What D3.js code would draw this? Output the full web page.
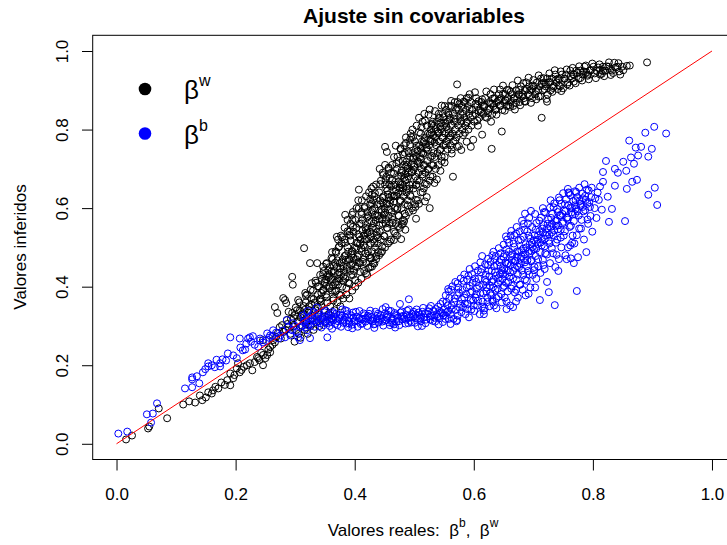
<!DOCTYPE html>
<html><head><meta charset="utf-8">
<script src="https://cdn.jsdelivr.net/npm/d3@7"></script>
<style>body{margin:0;background:#fff}svg{display:block}text{font-family:"Liberation Sans",Arial,Helvetica,sans-serif;fill:#000}</style>
</head><body>
<svg id="chart" width="727" height="545"></svg>
<script>
const title = "Ajuste sin covariables";
const xTicks = [0, 0.2, 0.4, 0.6, 0.8, 1.0];
const yTicks = [0, 0.2, 0.4, 0.6, 0.8, 1.0];

// beta^w (black) — real vs inferred
const betaW_low = [[0.016,0.011],[0.026,0.021],[0.053,0.039],[0.055,0.044],[0.071,0.090],[0.085,0.065],[0.112,0.100],[0.122,0.108],[0.132,0.105],[0.144,0.111],[0.140,0.123],[0.150,0.118],[0.154,0.131],[0.160,0.128],[0.162,0.136],[0.166,0.145],[0.171,0.141],[0.176,0.156],[0.182,0.150],[0.186,0.162],[0.191,0.179],[0.196,0.167],[0.191,0.149],[0.198,0.175],[0.202,0.192],[0.204,0.205],[0.207,0.182],[0.210,0.188],[0.214,0.196],[0.219,0.200],[0.224,0.205],[0.228,0.187],[0.232,0.208],[0.236,0.221],[0.238,0.218],[0.240,0.213],[0.243,0.232],[0.246,0.200],[0.246,0.226],[0.250,0.218],[0.253,0.226],[0.255,0.240],[0.258,0.233],[0.258,0.246],[0.246,0.264],[0.262,0.252],[0.263,0.264],[0.266,0.258],[0.268,0.272],[0.271,0.282],[0.276,0.268],[0.274,0.297],[0.278,0.302],[0.281,0.285],[0.284,0.290],[0.289,0.298],[0.292,0.280],[0.286,0.315],[0.266,0.348],[0.270,0.333],[0.280,0.371],[0.285,0.358],[0.283,0.366],[0.295,0.425],[0.296,0.405],[0.295,0.333],[0.303,0.340],[0.300,0.328],[0.305,0.366],[0.317,0.384],[0.328,0.409],[0.315,0.498],[0.325,0.460],[0.337,0.460],[0.347,0.451]];
const betaW_mid = [[0.299,0.26],[0.302,0.29],[0.298,0.32],[0.306,0.28],[0.304,0.31],[0.308,0.34],[0.309,0.27],[0.312,0.30],[0.311,0.33],[0.307,0.36],[0.316,0.29],[0.314,0.33],[0.318,0.36],[0.321,0.28],[0.319,0.31],[0.323,0.35],[0.320,0.38],[0.326,0.30],[0.324,0.34],[0.327,0.37],[0.331,0.29],[0.329,0.32],[0.333,0.36],[0.330,0.39],[0.336,0.31],[0.334,0.34],[0.338,0.38],[0.335,0.41],[0.341,0.30],[0.339,0.33],[0.343,0.37],[0.340,0.40],[0.342,0.43],[0.346,0.32],[0.344,0.35],[0.347,0.39],[0.345,0.42],[0.351,0.31],[0.349,0.34],[0.352,0.38],[0.350,0.41],[0.348,0.44],[0.356,0.33],[0.354,0.36],[0.357,0.40],[0.355,0.43],[0.353,0.46],[0.361,0.32],[0.359,0.35],[0.362,0.39],[0.360,0.42],[0.358,0.45],[0.366,0.34],[0.364,0.37],[0.367,0.41],[0.365,0.44],[0.363,0.47],[0.371,0.36],[0.369,0.39],[0.372,0.42],[0.370,0.45],[0.368,0.49],[0.376,0.35],[0.374,0.38],[0.377,0.43],[0.375,0.46],[0.373,0.50],[0.381,0.37],[0.379,0.40],[0.382,0.44],[0.380,0.47],[0.378,0.51],[0.386,0.38],[0.384,0.42],[0.387,0.45],[0.385,0.48],[0.383,0.52],[0.391,0.37],[0.389,0.41],[0.392,0.44],[0.390,0.47],[0.388,0.50],[0.391,0.54],[0.396,0.39],[0.394,0.43],[0.397,0.46],[0.395,0.49],[0.393,0.53],[0.401,0.40],[0.399,0.44],[0.402,0.47],[0.400,0.50],[0.398,0.54],[0.401,0.57],[0.406,0.41],[0.404,0.45],[0.407,0.48],[0.405,0.51],[0.403,0.55],[0.411,0.42],[0.409,0.46],[0.412,0.49],[0.410,0.52],[0.408,0.56],[0.411,0.59],[0.416,0.44],[0.414,0.47],[0.417,0.50],[0.415,0.53],[0.413,0.57],[0.421,0.43],[0.419,0.46],[0.422,0.49],[0.420,0.52],[0.418,0.55],[0.421,0.59],[0.426,0.45],[0.424,0.48],[0.427,0.51],[0.425,0.54],[0.423,0.58],[0.426,0.61],[0.431,0.46],[0.429,0.49],[0.432,0.52],[0.430,0.55],[0.428,0.59],[0.431,0.62],[0.436,0.47],[0.434,0.50],[0.437,0.53],[0.435,0.57],[0.433,0.60],[0.441,0.48],[0.439,0.51],[0.442,0.54],[0.440,0.58],[0.438,0.61],[0.441,0.64],[0.446,0.49],[0.444,0.52],[0.447,0.56],[0.445,0.59],[0.443,0.62],[0.451,0.50],[0.449,0.53],[0.452,0.57],[0.450,0.60],[0.448,0.63],[0.451,0.66],[0.456,0.51],[0.454,0.55],[0.457,0.58],[0.455,0.61],[0.453,0.65],[0.461,0.52],[0.459,0.56],[0.462,0.59],[0.460,0.62],[0.458,0.66],[0.461,0.69],[0.466,0.54],[0.464,0.57],[0.467,0.60],[0.465,0.63],[0.463,0.67],[0.471,0.53],[0.469,0.56],[0.472,0.60],[0.470,0.63],[0.468,0.66],[0.471,0.70],[0.476,0.55],[0.474,0.58],[0.477,0.62],[0.475,0.65],[0.473,0.68],[0.481,0.56],[0.479,0.60],[0.482,0.63],[0.480,0.66],[0.478,0.69],[0.481,0.72],[0.486,0.58],[0.484,0.61],[0.487,0.64],[0.485,0.67],[0.483,0.71],[0.491,0.59],[0.489,0.62],[0.492,0.65],[0.490,0.68],[0.488,0.71],[0.491,0.74],[0.496,0.60],[0.494,0.63],[0.497,0.66],[0.495,0.69],[0.493,0.73],[0.501,0.61],[0.499,0.65],[0.502,0.68],[0.500,0.71],[0.498,0.74],[0.501,0.77],[0.506,0.62],[0.504,0.66],[0.507,0.69],[0.505,0.72],[0.503,0.75],[0.511,0.64],[0.509,0.67],[0.512,0.70],[0.510,0.73],[0.508,0.76],[0.511,0.79],[0.516,0.65],[0.514,0.68],[0.517,0.71],[0.515,0.74],[0.513,0.77],[0.521,0.66],[0.519,0.69],[0.522,0.72],[0.520,0.75],[0.518,0.78],[0.521,0.81],[0.526,0.67],[0.524,0.70],[0.527,0.73],[0.525,0.76],[0.523,0.79],[0.531,0.68],[0.529,0.71],[0.532,0.74],[0.530,0.77],[0.528,0.80],[0.531,0.82],[0.536,0.70],[0.534,0.73],[0.537,0.76],[0.535,0.78],[0.533,0.81],[0.541,0.71],[0.539,0.74],[0.542,0.77],[0.540,0.79],[0.538,0.82],[0.541,0.84],[0.546,0.72],[0.544,0.75],[0.547,0.78],[0.545,0.80],[0.543,0.83],[0.551,0.73],[0.549,0.76],[0.552,0.79],[0.550,0.81],[0.548,0.84],[0.551,0.86],[0.556,0.75],[0.554,0.77],[0.557,0.80],[0.555,0.82],[0.553,0.85],[0.561,0.76],[0.559,0.78],[0.562,0.81],[0.560,0.83],[0.558,0.86],[0.566,0.77],[0.564,0.79],[0.567,0.82],[0.565,0.84],[0.563,0.86],[0.571,0.78],[0.569,0.80],[0.572,0.82],[0.570,0.85],[0.568,0.87],[0.576,0.79],[0.574,0.81],[0.577,0.83],[0.575,0.85],[0.573,0.87],[0.581,0.80],[0.579,0.82],[0.582,0.84],[0.580,0.86],[0.578,0.88],[0.586,0.81],[0.584,0.83],[0.587,0.85],[0.585,0.87],[0.591,0.80],[0.589,0.82],[0.592,0.84],[0.590,0.86],[0.588,0.88],[0.596,0.81],[0.594,0.83],[0.597,0.85],[0.595,0.87],[0.593,0.89]];
const betaW_fill = [[0.287,0.305],[0.293,0.318],[0.301,0.347],[0.297,0.299],[0.309,0.322],[0.314,0.351],[0.322,0.334],[0.318,0.305],[0.327,0.356],[0.333,0.327],[0.289,0.336],[0.305,0.312],[0.338,0.349],[0.343,0.362],[0.316,0.341],[0.318,0.377],[0.326,0.392],[0.331,0.368],[0.338,0.401],[0.344,0.384],[0.349,0.412],[0.353,0.373],[0.358,0.396],[0.362,0.419],[0.367,0.388],[0.372,0.405],[0.377,0.378],[0.381,0.414],[0.386,0.396],[0.391,0.408],[0.334,0.415],[0.341,0.367],[0.356,0.424],[0.364,0.365],[0.375,0.421],[0.347,0.392],[0.352,0.402],[0.369,0.413],[0.347,0.432],[0.352,0.458],[0.356,0.441],[0.361,0.473],[0.365,0.452],[0.369,0.487],[0.374,0.436],[0.378,0.462],[0.383,0.478],[0.387,0.445],[0.392,0.469],[0.396,0.491],[0.401,0.452],[0.405,0.476],[0.409,0.438],[0.414,0.463],[0.418,0.485],[0.423,0.447],[0.428,0.472],[0.433,0.459],[0.439,0.488],[0.358,0.428],[0.371,0.467],[0.381,0.426],[0.394,0.455],[0.407,0.461],[0.419,0.434],[0.436,0.478],[0.444,0.486],[0.374,0.503],[0.379,0.526],[0.384,0.512],[0.388,0.541],[0.393,0.518],[0.397,0.552],[0.402,0.497],[0.406,0.533],[0.411,0.561],[0.415,0.506],[0.419,0.544],[0.424,0.522],[0.428,0.566],[0.433,0.511],[0.437,0.539],[0.441,0.557],[0.446,0.502],[0.450,0.528],[0.455,0.549],[0.459,0.515],[0.464,0.563],[0.468,0.536],[0.473,0.554],[0.478,0.521],[0.483,0.567],[0.391,0.532],[0.409,0.509],[0.422,0.548],[0.439,0.526],[0.452,0.561],[0.466,0.519],[0.485,0.545],[0.412,0.584],[0.417,0.603],[0.421,0.576],[0.426,0.622],[0.430,0.594],[0.434,0.638],[0.438,0.581],[0.443,0.609],[0.447,0.627],[0.451,0.589],[0.455,0.645],[0.459,0.612],[0.463,0.578],[0.467,0.631],[0.471,0.597],[0.476,0.618],[0.480,0.642],[0.484,0.586],[0.489,0.607],[0.493,0.633],[0.498,0.594],[0.503,0.621],[0.508,0.611],[0.514,0.641],[0.521,0.628],[0.429,0.612],[0.446,0.571],[0.457,0.626],[0.474,0.581],[0.487,0.649],[0.502,0.603],[0.518,0.617],[0.443,0.661],[0.448,0.684],[0.452,0.672],[0.457,0.703],[0.461,0.655],[0.466,0.688],[0.470,0.713],[0.474,0.668],[0.479,0.696],[0.483,0.677],[0.487,0.718],[0.492,0.659],[0.496,0.692],[0.500,0.705],[0.505,0.671],[0.509,0.714],[0.514,0.686],[0.518,0.662],[0.523,0.699],[0.527,0.681],[0.532,0.709],[0.538,0.673],[0.544,0.695],[0.551,0.716],[0.459,0.676],[0.476,0.652],[0.489,0.701],[0.503,0.658],[0.516,0.708],[0.534,0.664],[0.472,0.731],[0.477,0.752],[0.481,0.737],[0.486,0.766],[0.490,0.744],[0.495,0.781],[0.499,0.728],[0.504,0.759],[0.508,0.793],[0.512,0.741],[0.517,0.772],[0.521,0.754],[0.526,0.788],[0.530,0.733],[0.534,0.767],[0.539,0.796],[0.543,0.748],[0.548,0.779],[0.553,0.761],[0.558,0.791],[0.563,0.739],[0.569,0.772],[0.575,0.758],[0.582,0.786],[0.588,0.769],[0.493,0.762],[0.511,0.725],[0.528,0.776],[0.546,0.731],[0.561,0.784],[0.579,0.748],[0.512,0.806],[0.518,0.823],[0.524,0.838],[0.529,0.812],[0.535,0.847],[0.541,0.829],[0.546,0.861],[0.552,0.817],[0.557,0.842],[0.562,0.873],[0.567,0.828],[0.572,0.856],[0.578,0.839],[0.583,0.871],[0.588,0.818],[0.593,0.852],[0.598,0.836],[0.603,0.866],[0.608,0.848],[0.614,0.877],[0.619,0.832],[0.526,0.851],[0.544,0.808],[0.559,0.826],[0.576,0.866],[0.591,0.881],[0.606,0.823],[0.617,0.858],[0.624,0.842],[0.628,0.866],[0.632,0.879],[0.636,0.851],[0.641,0.874],[0.645,0.862],[0.649,0.891],[0.654,0.874],[0.658,0.862],[0.662,0.896],[0.667,0.879],[0.671,0.868],[0.676,0.901],[0.681,0.884],[0.685,0.872],[0.689,0.903],[0.694,0.887],[0.699,0.912],[0.704,0.898],[0.709,0.884],[0.714,0.917],[0.719,0.903],[0.724,0.889],[0.728,0.921],[0.733,0.906],[0.738,0.927],[0.743,0.912],[0.747,0.898],[0.752,0.929],[0.757,0.915],[0.763,0.936],[0.768,0.922],[0.774,0.944],[0.779,0.931],[0.785,0.948],[0.791,0.937],[0.797,0.951],[0.803,0.943],[0.809,0.958],[0.817,0.949],[0.823,0.961],[0.829,0.952],[0.838,0.958],[0.844,0.948]];
const betaW_core = [[0.352,0.418],[0.361,0.439],[0.367,0.461],[0.376,0.447],[0.385,0.468],[0.389,0.489],[0.398,0.473],[0.403,0.512],[0.411,0.498],[0.417,0.521],[0.421,0.537],[0.427,0.528],[0.432,0.561],[0.436,0.548],[0.442,0.572],[0.445,0.596],[0.449,0.583],[0.453,0.612],[0.458,0.597],[0.462,0.631],[0.466,0.617],[0.469,0.648],[0.473,0.639],[0.477,0.661],[0.481,0.651],[0.485,0.687],[0.488,0.673],[0.491,0.692],[0.495,0.711],[0.499,0.698],[0.503,0.732],[0.507,0.718],[0.511,0.751],[0.515,0.738],[0.519,0.762],[0.523,0.748],[0.527,0.771],[0.532,0.786],[0.536,0.801],[0.541,0.792],[0.545,0.818],[0.549,0.831],[0.554,0.807],[0.558,0.838],[0.364,0.402],[0.372,0.431],[0.381,0.452],[0.394,0.481],[0.408,0.527],[0.413,0.543],[0.425,0.569],[0.434,0.583],[0.447,0.615],[0.456,0.635],[0.465,0.658],[0.478,0.682],[0.486,0.706],[0.498,0.727],[0.506,0.746],[0.516,0.768],[0.529,0.792]];
const betaW_fringe = [[0.372,0.52],[0.377,0.53],[0.383,0.55],[0.388,0.57],[0.393,0.56],[0.397,0.59],[0.403,0.60],[0.406,0.62],[0.412,0.62],[0.416,0.60],[0.419,0.63],[0.424,0.64],[0.428,0.65],[0.433,0.63],[0.436,0.66],[0.444,0.67],[0.447,0.69],[0.453,0.68],[0.457,0.70],[0.463,0.71],[0.466,0.73],[0.474,0.72],[0.477,0.75],[0.483,0.76],[0.486,0.78],[0.494,0.79],[0.497,0.80],[0.504,0.81],[0.508,0.83],[0.514,0.82],[0.517,0.84],[0.370,0.527],[0.362,0.488],[0.384,0.583],[0.396,0.583],[0.396,0.570],[0.407,0.647],[0.407,0.600],[0.431,0.655],[0.429,0.634],[0.442,0.700],[0.451,0.710],[0.451,0.756],[0.454,0.743],[0.469,0.759],[0.484,0.741],[0.493,0.774],[0.498,0.781],[0.503,0.573],[0.481,0.570],[0.479,0.558],[0.526,0.600],[0.426,0.473],[0.429,0.451],[0.401,0.417],[0.397,0.430],[0.565,0.680],[0.585,0.792],[0.530,0.815]];
const betaW_high = [[0.601,0.82],[0.603,0.84],[0.606,0.86],[0.604,0.88],[0.609,0.83],[0.611,0.85],[0.613,0.87],[0.616,0.84],[0.618,0.86],[0.619,0.88],[0.607,0.81],[0.622,0.83],[0.624,0.85],[0.626,0.87],[0.628,0.89],[0.631,0.84],[0.633,0.86],[0.635,0.88],[0.637,0.85],[0.639,0.87],[0.642,0.89],[0.644,0.86],[0.646,0.88],[0.648,0.85],[0.629,0.82],[0.651,0.87],[0.653,0.89],[0.655,0.86],[0.657,0.88],[0.659,0.90],[0.662,0.87],[0.664,0.89],[0.666,0.86],[0.668,0.88],[0.671,0.90],[0.673,0.88],[0.675,0.89],[0.677,0.87],[0.679,0.91],[0.682,0.89],[0.684,0.88],[0.686,0.90],[0.688,0.92],[0.691,0.89],[0.693,0.91],[0.695,0.90],[0.698,0.88],[0.701,0.91],[0.703,0.89],[0.706,0.92],[0.708,0.90],[0.711,0.91],[0.713,0.93],[0.716,0.90],[0.718,0.92],[0.721,0.91],[0.723,0.93],[0.726,0.92],[0.729,0.90],[0.731,0.93],[0.734,0.91],[0.737,0.94],[0.739,0.92],[0.742,0.93],[0.745,0.91],[0.748,0.94],[0.752,0.93],[0.755,0.94],[0.758,0.92],[0.762,0.95],[0.765,0.93],[0.768,0.94],[0.772,0.95],[0.776,0.93],[0.779,0.95],[0.783,0.94],[0.786,0.96],[0.791,0.94],[0.795,0.95],[0.801,0.96],[0.806,0.95],[0.812,0.94],[0.817,0.96],[0.821,0.95],[0.826,0.96],[0.832,0.95],[0.836,0.97],[0.841,0.96],[0.846,0.94],[0.849,0.96],[0.815,0.942],[0.830,0.939],[0.572,0.915],[0.644,0.902],[0.714,0.830],[0.723,0.871],[0.647,0.795],[0.630,0.751],[0.614,0.787],[0.595,0.756],[0.599,0.774],[0.572,0.756],[0.563,0.749],[0.862,0.963],[0.891,0.971]];
const betaW_upper = [[0.602,0.895],[0.608,0.872],[0.612,0.843],[0.621,0.897],[0.627,0.853],[0.634,0.902],[0.638,0.838],[0.643,0.877],[0.649,0.912],[0.652,0.848],[0.656,0.901],[0.661,0.858],[0.665,0.913],[0.669,0.851],[0.674,0.925],[0.678,0.862],[0.683,0.918],[0.687,0.871],[0.692,0.932],[0.696,0.868],[0.700,0.926],[0.705,0.877],[0.709,0.938],[0.712,0.885],[0.717,0.931],[0.722,0.878],[0.727,0.943],[0.732,0.896],[0.736,0.951],[0.741,0.903],[0.746,0.948],[0.750,0.905],[0.756,0.953],[0.761,0.912],[0.766,0.957],[0.771,0.918],[0.777,0.961],[0.782,0.925],[0.788,0.963],[0.793,0.928],[0.799,0.968],[0.805,0.931],[0.811,0.966],[0.819,0.936],[0.827,0.971],[0.834,0.944],[0.843,0.969],[0.851,0.951],[0.857,0.962],[0.812,0.952],[0.789,0.946],[0.767,0.941],[0.744,0.928],[0.721,0.916],[0.698,0.903],[0.676,0.889],[0.653,0.875],[0.631,0.866],[0.615,0.862]];

// beta^b (blue) — real vs inferred
const betaB_low = [[0.003,0.026],[0.018,0.031],[0.051,0.075],[0.061,0.077],[0.068,0.103],[0.058,0.054],[0.115,0.141],[0.127,0.144],[0.127,0.164],[0.139,0.154],[0.127,0.169],[0.135,0.172],[0.145,0.182],[0.149,0.190],[0.154,0.197],[0.154,0.205],[0.160,0.200],[0.165,0.195],[0.168,0.214],[0.174,0.197],[0.174,0.205],[0.178,0.215],[0.184,0.212],[0.187,0.230],[0.196,0.225],[0.191,0.271],[0.202,0.218],[0.207,0.268],[0.208,0.245],[0.212,0.238],[0.216,0.240],[0.218,0.255],[0.221,0.268],[0.224,0.271],[0.226,0.260],[0.229,0.274],[0.232,0.252],[0.238,0.247],[0.241,0.263],[0.241,0.268],[0.246,0.258],[0.251,0.262],[0.253,0.281],[0.256,0.270],[0.258,0.276],[0.262,0.275],[0.263,0.289],[0.268,0.283],[0.272,0.268],[0.275,0.276],[0.279,0.288],[0.283,0.271],[0.286,0.315],[0.288,0.296],[0.292,0.276],[0.295,0.289],[0.296,0.307],[0.300,0.300],[0.303,0.284]];
const betaB_flat = [[0.305,0.271],[0.308,0.264],[0.320,0.289],[0.325,0.269],[0.330,0.315],[0.342,0.307],[0.347,0.315],[0.353,0.307],[0.354,0.271],[0.364,0.315],[0.364,0.332],[0.375,0.322],[0.384,0.340],[0.389,0.297],[0.459,0.302],[0.490,0.307],[0.491,0.368],[0.476,0.356],[0.572,0.315],[0.557,0.394],[0.573,0.409],[0.312,0.301],[0.316,0.322],[0.318,0.296],[0.323,0.312],[0.327,0.327],[0.333,0.298],[0.336,0.318],[0.338,0.331],[0.344,0.296],[0.346,0.323],[0.349,0.335],[0.352,0.312],[0.358,0.300],[0.360,0.327],[0.362,0.318],[0.367,0.305],[0.369,0.331],[0.372,0.312],[0.377,0.298],[0.379,0.326],[0.382,0.316],[0.386,0.306],[0.388,0.330],[0.392,0.320],[0.395,0.303],[0.397,0.334],[0.400,0.314],[0.403,0.324],[0.405,0.298],[0.408,0.338],[0.411,0.317],[0.413,0.306],[0.416,0.327],[0.419,0.320],[0.421,0.300],[0.424,0.331],[0.427,0.314],[0.429,0.323],[0.432,0.304],[0.435,0.336],[0.437,0.318],[0.440,0.309],[0.443,0.328],[0.445,0.320],[0.448,0.301],[0.451,0.332],[0.453,0.315],[0.456,0.325],[0.458,0.309],[0.461,0.338],[0.464,0.319],[0.466,0.304],[0.469,0.329],[0.472,0.321],[0.474,0.312],[0.477,0.334],[0.480,0.317],[0.482,0.326],[0.485,0.306],[0.488,0.339],[0.490,0.320],[0.493,0.313],[0.496,0.331],[0.498,0.324],[0.501,0.308],[0.504,0.342],[0.506,0.318],[0.509,0.328],[0.511,0.312],[0.514,0.336],[0.517,0.322],[0.519,0.307],[0.522,0.331],[0.525,0.345],[0.527,0.316],[0.530,0.326],[0.532,0.338],[0.535,0.311],[0.538,0.330],[0.540,0.349],[0.543,0.320],[0.545,0.335],[0.548,0.310],[0.550,0.342],[0.553,0.326],[0.556,0.352],[0.558,0.318],[0.314,0.310],[0.321,0.302],[0.329,0.318],[0.340,0.312],[0.350,0.325],[0.357,0.317],[0.365,0.324],[0.374,0.318],[0.381,0.308],[0.390,0.313],[0.398,0.321],[0.406,0.311],[0.414,0.318],[0.422,0.326],[0.430,0.312],[0.438,0.326],[0.446,0.311],[0.454,0.321],[0.462,0.314],[0.470,0.311],[0.478,0.324],[0.486,0.316],[0.494,0.322],[0.502,0.329],[0.510,0.319],[0.518,0.332],[0.526,0.324],[0.534,0.321],[0.542,0.338],[0.549,0.327],[0.555,0.335]];
const betaB_flatFill = [[0.309,0.297],[0.313,0.327],[0.317,0.313],[0.322,0.321],[0.326,0.304],[0.331,0.336],[0.335,0.309],[0.339,0.324],[0.343,0.317],[0.348,0.302],[0.351,0.339],[0.355,0.321],[0.359,0.311],[0.363,0.336],[0.368,0.319],[0.371,0.302],[0.376,0.328],[0.380,0.313],[0.384,0.322],[0.387,0.338],[0.391,0.306],[0.394,0.327],[0.399,0.311],[0.402,0.336],[0.407,0.319],[0.410,0.305],[0.415,0.332],[0.418,0.311],[0.423,0.321],[0.426,0.339],[0.431,0.317],[0.434,0.305],[0.439,0.331],[0.442,0.318],[0.447,0.343],[0.450,0.313],[0.455,0.329],[0.457,0.339],[0.463,0.307],[0.467,0.333],[0.471,0.326],[0.475,0.302],[0.479,0.337],[0.483,0.319],[0.487,0.328],[0.491,0.342],[0.495,0.309],[0.499,0.336],[0.503,0.321],[0.507,0.334],[0.512,0.323],[0.515,0.346],[0.520,0.316],[0.524,0.337],[0.528,0.351],[0.531,0.313],[0.536,0.343],[0.539,0.324],[0.544,0.356],[0.547,0.332],[0.552,0.318],[0.554,0.361],[0.557,0.338],[0.559,0.371],[0.336,0.347],[0.362,0.293],[0.396,0.294],[0.433,0.295],[0.468,0.296],[0.506,0.299],[0.541,0.304],[0.321,0.338],[0.379,0.342],[0.452,0.348],[0.513,0.300],[0.561,0.305]];
const betaB_rise = [[0.561,0.330],[0.563,0.352],[0.566,0.318],[0.568,0.370],[0.570,0.341],[0.573,0.326],[0.575,0.385],[0.577,0.356],[0.579,0.335],[0.562,0.392],[0.571,0.312],[0.582,0.348],[0.584,0.372],[0.586,0.330],[0.588,0.398],[0.590,0.356],[0.592,0.322],[0.594,0.385],[0.596,0.342],[0.598,0.410],[0.599,0.365],[0.583,0.415],[0.591,0.428],[0.601,0.338],[0.603,0.372],[0.605,0.395],[0.606,0.352],[0.608,0.420],[0.610,0.330],[0.611,0.384],[0.613,0.445],[0.615,0.362],[0.616,0.405],[0.618,0.345],[0.620,0.430],[0.621,0.388],[0.623,0.372],[0.624,0.455],[0.604,0.412],[0.617,0.330],[0.626,0.350],[0.627,0.402],[0.629,0.378],[0.630,0.440],[0.632,0.362],[0.633,0.418],[0.635,0.470],[0.636,0.392],[0.638,0.345],[0.639,0.455],[0.641,0.408],[0.642,0.375],[0.644,0.432],[0.645,0.485],[0.647,0.360],[0.648,0.420],[0.649,0.398],[0.631,0.480],[0.651,0.445],[0.652,0.372],[0.654,0.410],[0.655,0.495],[0.657,0.388],[0.658,0.460],[0.660,0.425],[0.661,0.352],[0.663,0.478],[0.664,0.402],[0.666,0.440],[0.667,0.510],[0.669,0.385],[0.670,0.465],[0.672,0.418],[0.673,0.490],[0.674,0.372],[0.656,0.520],[0.662,0.530],[0.671,0.535],[0.676,0.450],[0.677,0.405],[0.679,0.520],[0.680,0.478],[0.682,0.392],[0.683,0.430],[0.685,0.545],[0.686,0.462],[0.688,0.500],[0.689,0.415],[0.691,0.440],[0.692,0.530],[0.694,0.485],[0.695,0.398],[0.697,0.468],[0.698,0.512],[0.699,0.430],[0.684,0.560],[0.693,0.575],[0.687,0.378],[0.701,0.495],[0.702,0.450],[0.704,0.545],[0.705,0.420],[0.707,0.520],[0.708,0.470],[0.710,0.568],[0.711,0.366],[0.712,0.435],[0.714,0.505],[0.715,0.548],[0.717,0.455],[0.718,0.590],[0.720,0.485],[0.721,0.530],[0.723,0.412],[0.724,0.560],[0.703,0.585],[0.716,0.600],[0.719,0.445],[0.726,0.386],[0.727,0.510],[0.728,0.460],[0.730,0.575],[0.731,0.538],[0.733,0.485],[0.734,0.602],[0.736,0.353],[0.737,0.450],[0.738,0.555],[0.740,0.520],[0.741,0.590],[0.743,0.470],[0.744,0.620],[0.746,0.545],[0.747,0.500],[0.749,0.585],[0.729,0.620],[0.742,0.440],[0.751,0.530],[0.753,0.610],[0.754,0.480],[0.756,0.470],[0.757,0.575],[0.759,0.640],[0.762,0.505],[0.763,0.555],[0.765,0.600],[0.766,0.530],[0.768,0.460],[0.770,0.585],[0.771,0.620],[0.772,0.641],[0.773,0.389],[0.775,0.475],[0.777,0.548],[0.779,0.605],[0.781,0.570],[0.783,0.625],[0.785,0.520],[0.787,0.595],[0.789,0.488],[0.790,0.647],[0.792,0.560],[0.794,0.615],[0.796,0.580],[0.798,0.652],[0.799,0.540],[0.758,0.500],[0.769,0.510],[0.614,0.478],[0.652,0.483],[0.666,0.348],[0.760,0.638]];
const betaB_riseFill = [[0.563,0.342],[0.567,0.361],[0.572,0.378],[0.576,0.347],[0.580,0.368],[0.581,0.392],[0.585,0.357],[0.587,0.381],[0.589,0.343],[0.593,0.402],[0.595,0.366],[0.597,0.388],[0.600,0.352],[0.602,0.421],[0.604,0.381],[0.607,0.364],[0.609,0.402],[0.612,0.437],[0.614,0.349],[0.616,0.383],[0.619,0.418],[0.622,0.398],[0.623,0.361],[0.625,0.441],[0.628,0.384],[0.630,0.412],[0.631,0.365],[0.634,0.452],[0.637,0.428],[0.638,0.371],[0.640,0.395],[0.643,0.462],[0.644,0.415],[0.646,0.381],[0.648,0.441],[0.650,0.476],[0.651,0.402],[0.653,0.431],[0.655,0.362],[0.656,0.458],[0.658,0.412],[0.659,0.489],[0.661,0.437],[0.663,0.395],[0.664,0.468],[0.666,0.421],[0.668,0.501],[0.669,0.448],[0.671,0.392],[0.672,0.476],[0.674,0.431],[0.675,0.518],[0.677,0.459],[0.678,0.405],[0.680,0.492],[0.681,0.441],[0.683,0.527],[0.684,0.471],[0.686,0.418],[0.687,0.508],[0.689,0.452],[0.690,0.541],[0.692,0.489],[0.693,0.431],[0.695,0.522],[0.696,0.465],[0.698,0.552],[0.699,0.501],[0.701,0.442],[0.702,0.531],[0.704,0.478],[0.705,0.562],[0.707,0.509],[0.708,0.452],[0.710,0.541],[0.711,0.488],[0.713,0.576],[0.714,0.522],[0.716,0.468],[0.717,0.557],[0.719,0.503],[0.720,0.589],[0.722,0.538],[0.723,0.482],[0.725,0.571],[0.726,0.517],[0.728,0.601],[0.729,0.552],[0.731,0.498],[0.732,0.586],[0.734,0.531],[0.735,0.612],[0.737,0.567],[0.738,0.512],[0.740,0.598],[0.741,0.546],[0.743,0.627],[0.744,0.581],[0.746,0.525],[0.747,0.611],[0.749,0.561],[0.750,0.638],[0.752,0.594],[0.753,0.541],[0.755,0.622],[0.756,0.576],[0.758,0.649],[0.759,0.607],[0.761,0.552],[0.762,0.633],[0.764,0.589],[0.765,0.512],[0.767,0.618],[0.768,0.567],[0.770,0.643],[0.771,0.598],[0.773,0.531],[0.774,0.628],[0.776,0.581],[0.777,0.652],[0.779,0.611],[0.780,0.548],[0.782,0.637],[0.784,0.592],[0.786,0.661],[0.788,0.621],[0.791,0.571],[0.793,0.645],[0.795,0.603],[0.797,0.628],[0.634,0.352],[0.671,0.362],[0.703,0.398],[0.739,0.481],[0.763,0.472],[0.692,0.382],[0.655,0.343],[0.617,0.339]];
const betaB_edge = [[0.548,0.362],[0.553,0.378],[0.558,0.388],[0.564,0.401],[0.569,0.412],[0.574,0.398],[0.578,0.421],[0.584,0.431],[0.589,0.418],[0.593,0.445],[0.597,0.432],[0.602,0.452],[0.607,0.441],[0.611,0.462],[0.619,0.457],[0.624,0.471],[0.628,0.463],[0.633,0.489],[0.637,0.478],[0.642,0.498],[0.646,0.469],[0.650,0.507],[0.654,0.528],[0.659,0.512],[0.663,0.542],[0.668,0.531],[0.672,0.552],[0.677,0.541],[0.681,0.568],[0.686,0.586],[0.691,0.561],[0.696,0.593],[0.621,0.412],[0.626,0.426],[0.632,0.398],[0.636,0.437],[0.641,0.421],[0.645,0.452],[0.649,0.433],[0.653,0.462],[0.657,0.441],[0.662,0.455],[0.665,0.482],[0.669,0.466],[0.673,0.452],[0.676,0.489],[0.679,0.471],[0.683,0.497],[0.686,0.482],[0.690,0.467],[0.694,0.508],[0.697,0.491],[0.701,0.518],[0.705,0.497],[0.708,0.531],[0.712,0.512],[0.716,0.538],[0.719,0.521],[0.723,0.549],[0.727,0.532],[0.731,0.561],[0.735,0.543],[0.739,0.569],[0.742,0.556],[0.746,0.581],[0.750,0.565],[0.754,0.592],[0.758,0.571],[0.762,0.601],[0.766,0.584],[0.770,0.607],[0.774,0.592],[0.778,0.618],[0.783,0.603],[0.787,0.631],[0.791,0.611]];
const betaB_top = [[0.903,0.807],[0.923,0.790],[0.888,0.792],[0.861,0.772],[0.881,0.756],[0.872,0.754],[0.899,0.751],[0.876,0.734],[0.893,0.731],[0.864,0.729],[0.869,0.713],[0.851,0.718],[0.856,0.695],[0.837,0.700],[0.842,0.690],[0.822,0.720],[0.817,0.692],[0.817,0.667],[0.866,0.667],[0.874,0.672],[0.857,0.649],[0.837,0.657],[0.904,0.652],[0.893,0.634],[0.908,0.608],[0.854,0.567],[0.827,0.565],[0.832,0.598],[0.825,0.629],[0.812,0.655],[0.810,0.621],[0.815,0.596],[0.803,0.600],[0.806,0.575],[0.808,0.640],[0.804,0.625]];

const refLine = [[0,0],[1,1]];
const legendItems = [{sym:"β", sup:"w", color:"#000000"},{sym:"β", sup:"b", color:"#0000ff"}];

const svg = d3.select("#chart");
const x = d3.scaleLinear().domain([-0.04, 1.04]).range([92.7, 735.8]);
const y = d3.scaleLinear().domain([-0.04, 1.04]).range([459.5, 35.3]);
const fmt = d3.format(".1f");

// axes
const gx = svg.append("g").attr("transform", "translate(0,459.5)")
  .call(d3.axisBottom(x).tickValues(xTicks).tickFormat(fmt).tickSize(11).tickSizeOuter(0));
gx.select(".domain").remove();
gx.selectAll(".tick line").attr("stroke", "#000");
gx.selectAll(".tick text").attr("y", 40.5).attr("dy", 0).attr("font-size", 17).attr("fill", "#000")
  .style("font-family", '"Liberation Sans",Arial,sans-serif');

const gy = svg.append("g").attr("transform", "translate(92.7,0)")
  .call(d3.axisLeft(y).tickValues(yTicks).tickFormat(fmt).tickSize(10.7).tickSizeOuter(0));
gy.select(".domain").remove();
gy.selectAll(".tick line").attr("stroke", "#000");
gy.selectAll(".tick text").attr("x", 0).attr("y", 0).attr("dy", 0)
  .attr("text-anchor", "middle").attr("transform", "translate(-24.5,0) rotate(-90)")
  .attr("font-size", 17).attr("fill", "#000")
  .style("font-family", '"Liberation Sans",Arial,sans-serif');

// points
const black = betaW_low.concat(betaW_mid, betaW_fill, betaW_core, betaW_fringe, betaW_high, betaW_upper);
const blue = betaB_low.concat(betaB_flat, betaB_flatFill, betaB_rise, betaB_riseFill, betaB_edge, betaB_top);
const pts = svg.append("g");
pts.selectAll("circle.w").data(black).join("circle").attr("class", "w")
  .attr("cx", d => x(d[0])).attr("cy", d => y(d[1])).attr("r", 3.5)
  .attr("fill", "none").attr("stroke", "#000").attr("stroke-width", 1);
pts.selectAll("circle.b").data(blue).join("circle").attr("class", "b")
  .attr("cx", d => x(d[0])).attr("cy", d => y(d[1])).attr("r", 3.5)
  .attr("fill", "none").attr("stroke", "#0000ff").attr("stroke-width", 1);

// reference line
svg.append("path").datum(refLine)
  .attr("d", d3.line().x(d => x(d[0])).y(d => y(d[1])))
  .attr("stroke", "#ff0000").attr("stroke-width", 1).attr("fill", "none");

// frame
svg.append("rect").attr("x", x(-0.04)).attr("y", y(1.04))
  .attr("width", x(1.04) - x(-0.04)).attr("height", y(-0.04) - y(1.04))
  .attr("fill", "none").attr("stroke", "#000").attr("stroke-width", 1);

// title
svg.append("text").attr("x", 414).attr("y", 23).attr("text-anchor", "middle")
  .attr("font-size", 21).attr("font-weight", "bold").text(title);

// x axis title
const xt = svg.append("text").attr("x", 413).attr("y", 536).attr("text-anchor", "middle")
  .attr("font-size", 17).attr("xml:space", "preserve").style("white-space", "pre");
xt.append("tspan").text("Valores reales:  β");
xt.append("tspan").attr("font-size", 12).attr("dy", -9).text("b");
xt.append("tspan").attr("dy", 9).text(",  β");
xt.append("tspan").attr("font-size", 12).attr("dy", -9).text("w");

// y axis title
svg.append("text").attr("transform", "translate(26,247) rotate(-90)").attr("text-anchor", "middle")
  .attr("font-size", 17).text("Valores inferidos");

// legend
const lg = svg.append("g");
legendItems.forEach((it, i) => {
  const cy = 89 + i * 44.5;
  lg.append("circle").attr("cx", 145).attr("cy", cy).attr("r", 6.3).attr("fill", it.color);
  const t = lg.append("text").attr("x", 184).attr("y", cy + 10).attr("font-size", 26);
  t.append("tspan").text(it.sym);
  t.append("tspan").attr("font-size", 16).attr("dy", -13).text(it.sup);
});
</script>
</body></html>
